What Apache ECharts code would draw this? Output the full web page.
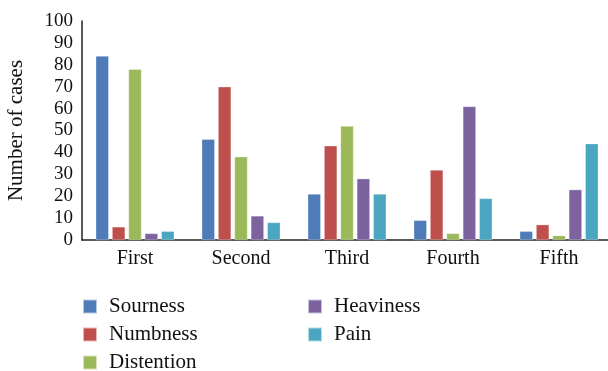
<!DOCTYPE html>
<html><head><meta charset="utf-8">
<script src="https://cdn.jsdelivr.net/npm/echarts@6/dist/echarts.min.js"></script>
<style>html,body{margin:0;padding:0;background:#fff}#c{width:608px;height:371px}</style>
</head><body><div id="c"></div>
<script>
const categories = ['First','Second','Third','Fourth','Fifth'];
const sourness   = [84, 46, 21, 9, 4];
const numbness   = [6, 70, 43, 32, 7];
const distention = [78, 38, 52, 3, 2];
const heaviness  = [3, 11, 28, 61, 23];
const pain       = [4, 8, 21, 19, 44];
const seriesNames = ['Sourness','Numbness','Distention','Heaviness','Pain'];
const seriesData = [sourness, numbness, distention, heaviness, pain];
const colors = ['#4F7CB8','#BE4F4C','#9BB95A','#7D62A0','#4BA6C1'];
const FONT = '"Liberation Serif", serif';

const chart = echarts.init(document.getElementById('c'));
const legendCommon = {
  orient: 'vertical', top: 296, padding: 0, height: 80,
  icon: 'rect', itemWidth: 14, itemHeight: 14, itemGap: 7,
  textStyle: {color: '#111', fontFamily: FONT, fontSize: 21, lineHeight: 20, padding: [0,0,0,7]}
};
chart.setOption({
  animation: false,
  color: colors,
  grid: {left: 82, top: 21, bottom: 131, right: -4, containLabel: false, outerBoundsMode: 'none'},
  xAxis: {
    type: 'category', data: categories,
    axisLine: {lineStyle: {color: '#222', width: 1.5}},
    axisTick: {show: false},
    axisLabel: {color: '#111', fontFamily: FONT, fontSize: 20, margin: 9}
  },
  yAxis: {
    type: 'value', min: 0, max: 100, interval: 10,
    name: 'Number of cases', nameLocation: 'middle', nameGap: 55,
    nameTextStyle: {color: '#111', fontFamily: FONT, fontSize: 21},
    axisLine: {show: true, lineStyle: {color: '#222', width: 1.5}},
    axisTick: {show: false},
    splitLine: {show: false},
    axisLabel: {color: '#111', fontFamily: FONT, fontSize: 19, margin: 9}
  },
  legend: [
    Object.assign({data: seriesNames.slice(0,3), left: 82}, legendCommon),
    Object.assign({data: seriesNames.slice(3), left: 307}, legendCommon)
  ],
  series: seriesNames.map((n, i) => ({
    name: n, type: 'bar', data: seriesData[i],
    barWidth: 13, barGap: '26%',
    itemStyle: {color: colors[i], borderColor: 'rgba(255,255,255,0.6)', borderWidth: 0.5}
  }))
});
</script></body></html>
